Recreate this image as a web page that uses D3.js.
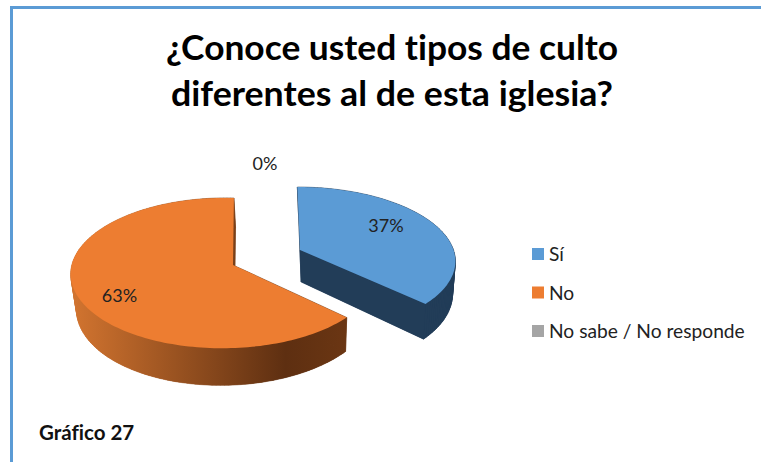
<!DOCTYPE html>
<html>
<head>
<meta charset="utf-8">
<script src="https://cdn.jsdelivr.net/npm/d3@7"></script>
<style>
  html, body { margin: 0; padding: 0; background: #fff; }
  svg { display: block; }
  text { font-family: Lato, "Open Sans", sans-serif; font-variant-ligatures: none; }
</style>
</head>
<body>
<div id="chart"></div>
<script>
const categories = ['Sí', 'No', 'No sabe / No responde'];
const values = [37, 63, 0];
const pctLabels = ['37%', '63%', '0%'];
const colors = ['#5b9bd5', '#ed7d31', '#a5a5a5'];
const titleLines = ['¿Conoce usted tipos de culto', 'diferentes al de esta iglesia?'];
const caption = 'Gráfico 27';

(function() {
  'use strict';

  const width = 761, height = 462,
      svg = d3.select('#chart').append('svg')
        .attr('width', width)
        .attr('height', height),
      defs = svg.append('defs');

  // frame, only top and left show
  svg.append('path')
    .attr('d', `M${width},7.5H11.5V${height}`)
    .attr('fill', 'none')
    .attr('stroke', '#5b9bd5')
    .attr('stroke-width', 3);

  const titleWidths = [452, 442];
  svg.selectAll('.title')
    .data(titleLines)
    .enter().append('text')
      .attr('class', 'title')
      .attr('x', 392)
      .attr('y', (d, i) => 60 + i * 46)
      .attr('text-anchor', 'middle')
      .attr('font-size', 35)
      .attr('font-weight', 700)
      .attr('fill', '#000')
      .attr('textLength', (d, i) => titleWidths[i])
      .attr('lengthAdjust', 'spacingAndGlyphs')
      .text(d => d);

  // orange side wall shading
  let grad = defs.append('linearGradient')
    .attr('id', 'wall-no')
    .attr('gradientUnits', 'userSpaceOnUse')
    .attr('x1', 76).attr('x2', 348).attr('y1', 0).attr('y2', 0);
  [[0, '#d0732f'], [0.77, '#5e2f11'], [1, '#6b3613']].forEach(s => {
    grad.append('stop').attr('offset', s[0]).attr('stop-color', s[1]);
  });

  // each slice gets its own fitted perspective (the exploded pieces sit apart)
  const views = [
    { ax: 300, ay: 250, R: 153.5, S: 71.5, k: 0.135, m: 0, sh: -3, depth: 32, vx: 345, wall: '#223d58' },
    { ax: 233, ay: 265, R: 152, S: 74.2, k: 0.107, m: 0.057, sh: 1, depth: 33, vx: 300, wall: 'url(#wall-no)' }
  ];

  const project = (v, a, r) => {
    let u = Math.sin(a) * r, t = Math.cos(a) * r,
        w = 1 + v.k * t + v.m * u;
    return { x: v.ax + (v.R * u + v.sh * t) / w, y: v.ay - v.S * t / w, w: w };
  };

  // lower rim: pushed down and pulled slightly to the vanishing point
  const lower = (v, p) => [v.vx + (p.x - v.vx) * 0.975, p.y + v.depth / p.w];

  const line = d3.line().curve(d3.curveLinearClosed),
      arcs = d3.pie().sort(null).value(d => d)(values);

  views.forEach((v, i) => {
    let a = arcs[i],
        n = Math.ceil((a.endAngle - a.startAngle) * 40),
        rim = d3.range(n + 1).map(j => project(v, a.startAngle + (a.endAngle - a.startAngle) * j / n, 1)),
        apex = project(v, 0, 0),
        outline = [apex].concat(rim),
        g = svg.append('g');

    // walls: full lower shape, then a band along every edge
    g.append('path')
      .attr('d', line(outline.map(p => lower(v, p))))
      .attr('fill', v.wall);

    d3.pairs(outline.concat([apex])).forEach(e => {
      g.append('path')
        .attr('d', line([
          [e[0].x, e[0].y], [e[1].x, e[1].y], lower(v, e[1]), lower(v, e[0])
        ]))
        .attr('fill', v.wall)
        .attr('stroke', v.wall)
        .attr('stroke-width', 0.5);
    });

    g.append('path')
      .attr('d', line(outline.map(p => [p.x, p.y])))
      .attr('fill', colors[i]);
  });

  // data labels
  const labelPos = [[386, 232], [119.5, 302], [265, 170]];
  svg.selectAll('.pct')
    .data(pctLabels)
    .enter().append('text')
      .attr('class', 'pct')
      .attr('x', (d, i) => labelPos[i][0])
      .attr('y', (d, i) => labelPos[i][1])
      .attr('text-anchor', 'middle')
      .attr('font-size', 18)
      .attr('fill', '#222')
      .text(d => d);

  // legend
  const legendY = d3.scalePoint().domain(categories).range([254, 331]),
      legend = svg.selectAll('.legend')
        .data(categories)
        .enter().append('g')
          .attr('class', 'legend')
          .attr('transform', d => `translate(532,${legendY(d)})`);

  legend.append('rect')
    .attr('y', -6)
    .attr('width', 12)
    .attr('height', 12)
    .attr('fill', (d, i) => colors[i]);

  legend.append('text')
    .attr('x', 17)
    .attr('y', 7)
    .attr('font-size', 19.2)
    .attr('fill', '#222')
    .text(d => d);

  svg.append('text')
    .attr('x', 39)
    .attr('y', 440)
    .attr('font-size', 20.5)
    .attr('font-weight', 700)
    .attr('fill', '#111')
    .text(caption);
})();
</script>
</body>
</html>
